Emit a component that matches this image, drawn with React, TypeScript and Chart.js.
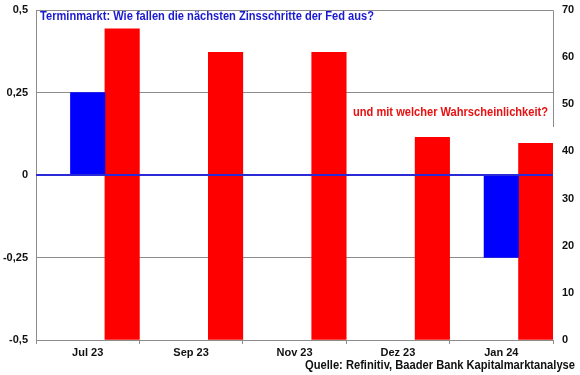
import React, { useEffect, useRef } from "react";
import { Chart, registerables } from "chart.js";

Chart.register(...registerables);

const categories = ["Jul 23", "Sep 23", "Nov 23", "Dez 23", "Jan 24"];
const rateSteps = [0.25, 0, 0, 0, -0.25];
const probabilities = [66, 61, 61, 43, 41.7];
const spacer = [null, null, null, null, null];
const leftTicks = [-0.5, -0.25, 0, 0.25, 0.5];
const titleText = "Terminmarkt: Wie fallen die nächsten Zinsschritte der Fed aus?";
const probText = "und mit welcher Wahrscheinlichkeit?";
const sourceText = "Quelle: Refinitiv, Baader Bank Kapitalmarktanalyse";

const FONT = "'Liberation Sans', Arial, sans-serif";
const GRID = "#8c8c8c";

export default function App() {
  const ref = useRef<HTMLCanvasElement | null>(null);

  useEffect(() => {
    document.body.style.margin = "0";
    const canvas = ref.current;
    if (!canvas) return;

    const overlay = {
      id: "overlay",
      afterDatasetsDraw(chart: any) {
        const { ctx, chartArea, scales } = chart;
        const y0 = scales.y.getPixelForValue(0);
        ctx.save();
        // zero line
        ctx.strokeStyle = "#2a2ad6";
        ctx.lineWidth = 2;
        ctx.beginPath();
        ctx.moveTo(chartArea.left, y0);
        ctx.lineTo(chartArea.right, y0);
        ctx.stroke();
        // frame top + partial right
        ctx.strokeStyle = GRID;
        ctx.lineWidth = 1;
        ctx.beginPath();
        ctx.moveTo(chartArea.left, chartArea.top + 0.5);
        ctx.lineTo(chartArea.right + 0.5, chartArea.top + 0.5);
        ctx.lineTo(chartArea.right + 0.5, chartArea.top + 117);
        ctx.stroke();
        // texts
        ctx.textBaseline = "middle";
        ctx.textAlign = "left";
        ctx.font = `bold 12px ${FONT}`;
        ctx.fillStyle = "#1a1ad0";
        ctx.fillText(titleText, chartArea.left + 4, chartArea.top + 7, 334);
        ctx.fillStyle = "#e81010";
        ctx.fillText(probText, 353, 113, 195);
        ctx.fillStyle = "#111";
        ctx.fillText(sourceText, 305, 366, 270);
        ctx.restore();
      },
    };

    const tickFont = { family: FONT, size: 11, weight: "bold" as const };

    const chart = new Chart(canvas, {
      type: "bar",
      data: {
        labels: categories,
        datasets: [
          { label: "", data: spacer as any, backgroundColor: "rgba(0,0,0,0)", yAxisID: "y" },
          { label: "Zinsschritt", data: rateSteps, backgroundColor: "#0000ff", yAxisID: "y" },
          { label: "Wahrscheinlichkeit", data: probabilities, backgroundColor: "#ff0000", yAxisID: "y2" },
        ],
      },
      options: {
        animation: false,
        responsive: false,
        maintainAspectRatio: false,
        layout: { padding: { top: 10, left: 0, right: 0, bottom: 0 } },
        datasets: { bar: { barPercentage: 1, categoryPercentage: 1 } },
        plugins: { legend: { display: false }, tooltip: { enabled: false }, title: { display: false } },
        scales: {
          x: {
            type: "category",
            offset: true,
            grid: { offset: true, drawOnChartArea: false, drawTicks: true, tickLength: 4, color: GRID },
            border: { display: true, color: GRID },
            ticks: { font: tickFont, color: "#111", padding: 2, maxRotation: 0 },
            afterFit: (s: any) => { s.height = 35; s.paddingLeft = 0; s.paddingRight = 0; },
          },
          y: {
            position: "left",
            min: -0.5,
            max: 0.5,
            afterBuildTicks: (s: any) => { s.ticks = leftTicks.map((v) => ({ value: v })); },
            grid: { color: GRID, drawTicks: false },
            border: { display: true, color: GRID },
            ticks: {
              font: tickFont,
              color: "#111",
              padding: 8,
              callback: (v: any) => String(v).replace(".", ","),
            },
            afterFit: (s: any) => { s.width = 36; s.paddingTop = 0; s.paddingBottom = 0; },
          },
          y2: {
            position: "right",
            min: 0,
            max: 70,
            ticks: { stepSize: 10, font: tickFont, color: "#111", padding: 9 },
            grid: { drawOnChartArea: false, drawTicks: false },
            border: { display: false },
            afterFit: (s: any) => { s.width = 27; s.paddingTop = 0; s.paddingBottom = 0; },
          },
        },
      },
      plugins: [overlay],
    });

    return () => chart.destroy();
  }, []);

  return (
    <div style={{ position: "fixed", left: 0, top: 0, width: 580, height: 375, background: "#fff" }}>
      <canvas ref={ref} width={580} height={375} style={{ width: 580, height: 375 }} />
    </div>
  );
}
